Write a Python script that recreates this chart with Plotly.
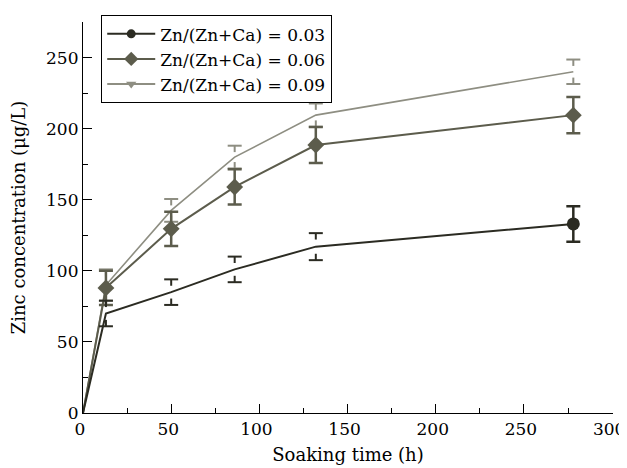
import plotly.graph_objects as go

# Data
times = [13, 50, 86, 132, 278]
names = ["Zn/(Zn+Ca) = 0.03", "Zn/(Zn+Ca) = 0.06", "Zn/(Zn+Ca) = 0.09"]
mean_003 = [70, 85, 101, 117, 133]
err_003 = [9, 9, 9, 9.5, 12.5]
mean_006 = [88, 129.5, 159, 188.5, 209.5]
err_006 = [12, 12, 12.4, 12.7, 12.7]
mean_009 = [90, 142.5, 180, 209.5, 240]
err_009 = [11, 8, 8, 8.2, 8.6]
x_ticks = [0, 50, 100, 150, 200, 250, 300]
y_ticks = [0, 50, 100, 150, 200, 250]

colors = ["#2b2b22", "#5c5c4c", "#8e8e82"]
FONT = "DejaVu Serif"
STUB = 4.5

fig = go.Figure()


def add_line(mean, color, width):
    fig.add_trace(go.Scatter(x=[0] + times, y=[0] + mean, mode="lines",
                             line=dict(color=color, width=width), showlegend=False,
                             hoverinfo="skip"))


def add_stubs(xs, mean, err, color):
    up = [m + e for m, e in zip(mean, err)]
    lo = [m - e for m, e in zip(mean, err)]
    fig.add_trace(go.Scatter(
        x=xs, y=up, mode="markers", showlegend=False,
        marker=dict(symbol="line-ew", size=10, color=color, line=dict(color=color, width=2)),
        error_y=dict(type="data", symmetric=False, array=[0] * len(xs),
                     arrayminus=[STUB] * len(xs), width=0, thickness=2, color=color)))
    fig.add_trace(go.Scatter(
        x=xs, y=lo, mode="markers", showlegend=False,
        marker=dict(symbol="line-ew", size=10, color=color, line=dict(color=color, width=2)),
        error_y=dict(type="data", symmetric=False, array=[STUB] * len(xs),
                     arrayminus=[0] * len(xs), width=0, thickness=2, color=color)))


# 0.09 (light)
add_line(mean_009, colors[2], 1.6)
add_stubs(times, mean_009, err_009, colors[2])

# 0.06 (medium, diamonds with full error bars)
add_line(mean_006, colors[1], 2)
fig.add_trace(go.Scatter(
    x=times, y=mean_006, mode="markers", showlegend=False,
    marker=dict(symbol="diamond", size=13, color=colors[1]),
    error_y=dict(type="data", array=err_006, width=7, thickness=2.5, color=colors[1])))

# 0.03 (dark)
add_line(mean_003, colors[0], 2)
add_stubs(times[:-1], mean_003[:-1], err_003[:-1], colors[0])
fig.add_trace(go.Scatter(
    x=times[-1:], y=mean_003[-1:], mode="markers", showlegend=False,
    marker=dict(symbol="circle", size=13, color=colors[0]),
    error_y=dict(type="data", array=err_003[-1:], width=7, thickness=2.5, color=colors[0])))

# legend entries
for name, color, sym in zip(names, colors, ["circle", "diamond", "triangle-down"]):
    fig.add_trace(go.Scatter(x=[None], y=[None], mode="lines+markers", name=name,
                             line=dict(color=color, width=2),
                             marker=dict(symbol=sym, size=9 if sym != "diamond" else 11, color=color)))

axis_common = dict(showline=True, linecolor="#000", linewidth=1.2, ticks="inside",
                   ticklen=9, tickwidth=1.2, tickcolor="#000", showgrid=False, zeroline=False,
                   automargin=False, ticklabeloverflow="allow",
                   tickfont=dict(family=FONT, size=17, color="#000"),
                   minor=dict(ticks="inside", ticklen=5, tickwidth=1.2, tickcolor="#000"))

fig.update_xaxes(range=[0, 300.5], tickvals=x_ticks, ticklabelshift=-3,
                 minor_tickvals=[25, 75, 125, 175, 225, 275],
                 title=dict(text="Soaking time (h)", font=dict(family=FONT, size=18, color="#000"),
                            standoff=10),
                 **axis_common)
fig.update_yaxes(range=[0, 275], tickvals=y_ticks,
                 minor_tickvals=[25, 75, 125, 175, 225, 275],
                 title=dict(text="Zinc concentration (μg/L)", font=dict(family=FONT, size=18, color="#000"),
                            standoff=15),
                 **axis_common)

# page body has an 8px margin: figure is sized so it fits the 627x468 window
fig.update_layout(
    width=619, height=460,
    margin=dict(l=75, r=14, t=7, b=55),
    plot_bgcolor="white", paper_bgcolor="white",
    legend=dict(x=0.034, y=1.0176, xanchor="left", yanchor="top",
                bordercolor="#000", borderwidth=1.2, bgcolor="white",
                font=dict(family=FONT, size=17, color="#000"),
                tracegroupgap=0, itemwidth=48),
)

fig.write_html("out.html")
